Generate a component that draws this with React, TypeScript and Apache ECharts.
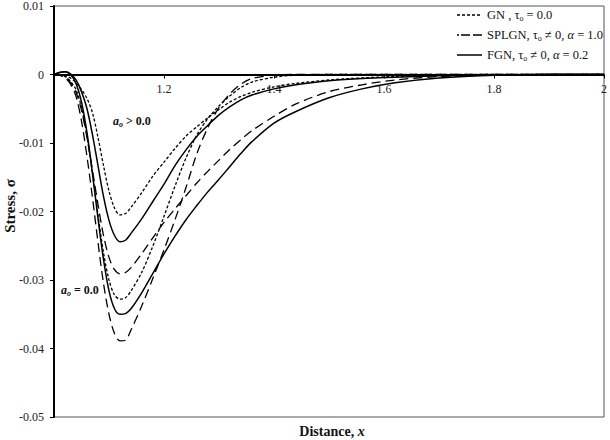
import React, { useEffect, useRef } from "react";
import * as echarts from "echarts";

const xs = [1.0, 1.01, 1.02, 1.03, 1.04, 1.05, 1.06, 1.07, 1.08, 1.09, 1.1, 1.11, 1.12, 1.13, 1.14,
  1.16, 1.18, 1.2, 1.22, 1.24, 1.26, 1.28, 1.3, 1.32, 1.34, 1.36,
  1.4, 1.44, 1.5, 1.56, 1.62, 1.7, 1.8, 1.9, 2.0];

// GN, tau_o = 0.0
const gnAoPos = [0, -0.0001, -0.0002, -0.0005, -0.0012, -0.0022, -0.0035, -0.0056, -0.0092, -0.0133, -0.017, -0.0195, -0.0205, -0.0203, -0.0194,
  -0.0172, -0.0148, -0.0128, -0.0108, -0.009, -0.0076, -0.0063, -0.0051, -0.004, -0.0032, -0.0026,
  -0.0018, -0.0013, -0.0008, -0.0005, -0.0003, -0.0001, 0, 0, 0];
const gnAoZero = [0, -0.0001, -0.0003, -0.001, -0.0022, -0.0048, -0.009, -0.0145, -0.0205, -0.026, -0.03, -0.0322, -0.0328, -0.0326, -0.0316,
  -0.0288, -0.025, -0.0207, -0.0163, -0.0122, -0.0088, -0.0064, -0.0046, -0.0031, -0.0019, -0.0011,
  -0.0004, -0.0001, 0, 0, 0, 0, 0, 0, 0];
// SPLGN, tau_o != 0, alpha = 1.0
const splgnAoPos = [0, -0.0001, -0.0004, -0.0012, -0.0026, -0.0052, -0.0092, -0.014, -0.019, -0.0235, -0.0267, -0.0285, -0.0291, -0.0289, -0.0282,
  -0.0261, -0.0238, -0.0216, -0.0196, -0.0177, -0.0158, -0.0141, -0.0125, -0.0109, -0.0095, -0.0082,
  -0.0061, -0.0043, -0.0025, -0.0015, -0.0008, -0.0003, -0.0001, 0, 0];
const splgnAoZero = [0, -0.0001, -0.0005, -0.0014, -0.0032, -0.0068, -0.012, -0.018, -0.0245, -0.0305, -0.035, -0.0378, -0.0389, -0.0388, -0.0373,
  -0.0337, -0.0297, -0.0256, -0.0212, -0.0165, -0.0115, -0.0077, -0.0048, -0.0028, -0.0014, -0.0006,
  -0.0001, 0, 0, 0, 0, 0, 0, 0, 0];
// FGN, tau_o != 0, alpha = 0.2
const fgnAoPos = [0, 0.0003, 0.0004, 0.0001, -0.0008, -0.0025, -0.005, -0.0088, -0.0133, -0.0178, -0.0213, -0.0235, -0.0244, -0.0242, -0.0232,
  -0.0210, -0.0185, -0.016, -0.0133, -0.0110, -0.0090, -0.0074, -0.0059, -0.0047, -0.0037, -0.003,
  -0.0021, -0.0015, -0.0009, -0.0006, -0.0004, -0.0002, -0.0001, 0, 0];
const fgnAoZero = [0, 0.0003, 0.0004, 0.0, -0.0013, -0.004, -0.0085, -0.0145, -0.021, -0.027, -0.0316, -0.0342, -0.035, -0.0349, -0.0342,
  -0.0318, -0.029, -0.0262, -0.0236, -0.0212, -0.0191, -0.0171, -0.0153, -0.0134, -0.0115, -0.0098,
  -0.0071, -0.0054, -0.0034, -0.0021, -0.0012, -0.0005, -0.0001, 0, 0];

const legendNames = ["GN , τo = 0.0", "SPLGN, τo ≠ 0, α = 1.0", "FGN, τo ≠ 0, α = 0.2"];
const legendRich = [
  "GN , τ{sub|o} = 0.0",
  "SPLGN, τ{sub|o} ≠ 0, {it|α} = 1.0",
  "FGN, τ{sub|o} ≠ 0, {it|α} = 0.2",
];

const yTicks = { min: -0.05, max: 0.01, step: 0.01 };
const xTicks = { min: 1, max: 2, step: 0.2 };

const FONT = "Liberation Serif";

export default function App() {
  const ref = useRef<HTMLDivElement>(null);
  useEffect(() => {
    if (!ref.current) return;
    const chart = echarts.init(ref.current, undefined, { renderer: "svg" });
    const pts = (ys: number[]) => xs.map((x, i) => [x, ys[i]]);
    const shortDash = [3, 2];
    const longDash = [9, 5];
    const mk = (name: string, ys: number[], type: any, width: number) => ({
      name,
      type: "line",
      data: pts(ys),
      symbol: "none",
      showSymbol: false,
      smooth: 0.3,
      lineStyle: { color: "#000", width, type },
      itemStyle: { color: "#000" },
      emphasis: { disabled: true },
    });

    const gridTop = 6;
    const gridH = 411;
    const zeroPx = gridTop + gridH * (yTicks.max / (yTicks.max - yTicks.min));
    const xOffset = -(gridTop + gridH - zeroPx);

    const legendTop = 15;
    const legendPitch = 20;
    const legendDash = [shortDash, [2, 2, 9, 3, 9, 100], null];
    const legendGraphics: any[] = [];
    legendNames.forEach((_, i) => {
      const y = legendTop + i * legendPitch;
      legendGraphics.push({
        type: "line",
        shape: { x1: 457, y1: y, x2: 482, y2: y },
        style: { stroke: "#000", lineWidth: i === 2 ? 1.5 : 1.3, lineDash: legendDash[i] || undefined },
      });
      legendGraphics.push({
        type: "text",
        x: 487,
        y,
        style: {
          text: legendRich[i],
          font: `12.5px "${FONT}"`,
          fill: "#111",
          textVerticalAlign: "middle",
          rich: {
            sub: { font: `8px "${FONT}"`, fill: "#111", padding: [6, 0, 0, 0] },
            it: { font: `italic 12.5px "${FONT}"`, fill: "#111" },
          },
        },
      });
    });

    chart.setOption({
      animation: false,
      grid: { left: 54, right: 5, top: gridTop, height: gridH, show: true, borderColor: "#555", borderWidth: 1 },
      xAxis: {
        type: "value",
        min: xTicks.min,
        max: xTicks.max,
        interval: xTicks.step,
        offset: xOffset,
        axisLine: { onZero: false, lineStyle: { color: "#000", width: 2 } },
        axisTick: { show: true, length: 4, lineStyle: { color: "#000" } },
        splitLine: { show: false },
        axisLabel: {
          fontFamily: FONT,
          fontSize: 12,
          color: "#222",
          margin: 8,
          formatter: (v: number) => (Math.abs(v - 1) < 1e-9 ? "" : Math.abs(v - 2) < 1e-9 ? "2" : v.toFixed(1)),
        },
      },
      yAxis: {
        type: "value",
        min: yTicks.min,
        max: yTicks.max,
        interval: yTicks.step,
        axisLine: { show: true, onZero: false, lineStyle: { color: "#000", width: 2 } },
        axisTick: { show: true, length: 4, lineStyle: { color: "#000" } },
        splitLine: { show: false },
        axisLabel: {
          fontFamily: FONT,
          fontSize: 12,
          color: "#222",
          margin: 10,
          formatter: (v: number) => {
            const r = Math.round(v * 100) / 100;
            return r === 0 ? "0" : String(r);
          },
        },
      },
      series: [
        mk(legendNames[0], gnAoPos, shortDash, 1.3),
        mk(legendNames[0], gnAoZero, shortDash, 1.3),
        mk(legendNames[1], splgnAoPos, longDash, 1.3),
        mk(legendNames[1], splgnAoZero, longDash, 1.3),
        mk(legendNames[2], fgnAoPos, "solid", 1.5),
        mk(legendNames[2], fgnAoZero, "solid", 1.5),
      ],
      graphic: [
        ...legendGraphics,
        {
          type: "text",
          x: 10,
          y: 206,
          rotation: Math.PI / 2,
          style: {
            text: "Stress, σ",
            font: `bold 15px "${FONT}"`,
            fill: "#111",
            textAlign: "center",
            textVerticalAlign: "middle",
          },
        },
        {
          type: "text",
          x: 332,
          y: 431,
          style: {
            text: "Distance, {i|x}",
            font: `bold 14px "${FONT}"`,
            fill: "#111",
            textAlign: "center",
            textVerticalAlign: "middle",
            rich: { i: { font: `italic bold 14px "${FONT}"`, fill: "#111" } },
          },
        },
        {
          type: "text",
          x: 113,
          y: 121,
          style: {
            text: "{a|a}{s|o}{t| > 0.0}",
            font: `bold 12px "${FONT}"`,
            fill: "#111",
            textVerticalAlign: "middle",
            rich: {
              a: { font: `italic bold 12px "${FONT}"`, fill: "#111" },
              s: { font: `italic bold 8px "${FONT}"`, fill: "#111", padding: [6, 0, 0, 0] },
              t: { font: `bold 12px "${FONT}"`, fill: "#111" },
            },
          },
        },
        {
          type: "text",
          x: 61,
          y: 290,
          style: {
            text: "{a|a}{s|o}{t| = 0.0}",
            font: `bold 12px "${FONT}"`,
            fill: "#111",
            textVerticalAlign: "middle",
            rich: {
              a: { font: `italic bold 12px "${FONT}"`, fill: "#111" },
              s: { font: `italic bold 8px "${FONT}"`, fill: "#111", padding: [6, 0, 0, 0] },
              t: { font: `bold 12px "${FONT}"`, fill: "#111" },
            },
          },
        },
      ],
    });
    return () => chart.dispose();
  }, []);
  return <div ref={ref} style={{ position: "fixed", left: 0, top: 0, width: 610, height: 440, background: "#fff" }} />;
}
